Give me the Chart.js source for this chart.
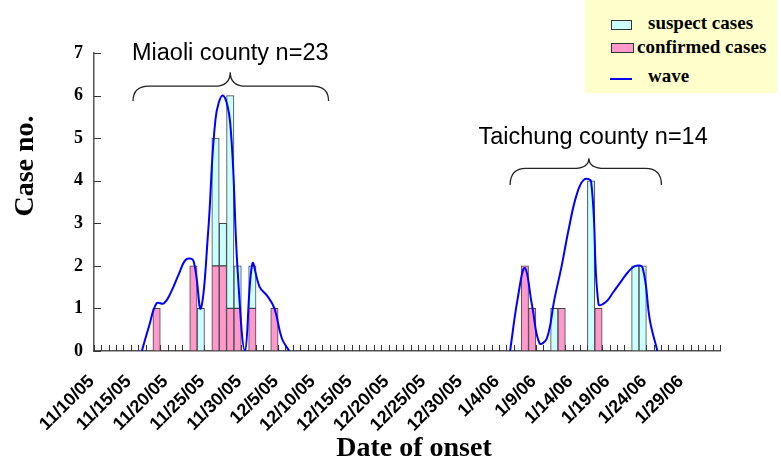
<!DOCTYPE html>
<html>
<head>
<meta charset="utf-8">
<script src="https://cdn.jsdelivr.net/npm/chart.js@4.4.1/dist/chart.umd.min.js"></script>
<style>
  body { margin: 0; background: #fff; }
  #wrap { position: relative; width: 781px; height: 463px; }
  #legend { position: absolute; left: 585px; top: 0; width: 192px; height: 93px; background: #ffffcc;
            font: bold 19px "Liberation Serif", "Times New Roman", serif; color: #000; line-height: 1; }
  #legend span { position: absolute; white-space: nowrap; }
  .swatch { position: absolute; width: 19px; height: 8px; border: 1px solid #333; }
</style>
</head>
<body>
<div id="wrap">
  <canvas id="epiChart" width="781" height="463"></canvas>
  <div id="legend">
    <div class="swatch" style="left:26px;top:20px;background:#ccffff"></div>
    <span style="left:63px;top:13px">suspect cases</span>
    <div class="swatch" style="left:26px;top:43px;width:21px;background:#ff99cc"></div>
    <span style="left:52px;top:37px">confirmed cases</span>
    <div style="position:absolute;left:25px;top:78px;width:22px;height:2px;background:#0000ff"></div>
    <span style="left:63px;top:66px">wave</span>
  </div>
</div>
<script>
// onset dates 11/10/05 .. 2/2/06, one category per day
const dates = [];
for (let i = 0; i < 85; i++) {
  const d = new Date(2005, 10, 10 + i);
  dates.push(`${d.getMonth() + 1}/${d.getDate()}/${String(d.getFullYear()).slice(2)}`);
}

const confirmedDays = ["11/18/05", "11/23/05", "11/26/05", "11/27/05", "11/28/05", "11/29/05", "12/1/05", "12/4/05",
                       "1/7/06", "1/8/06", "1/12/06", "1/17/06"];
const confirmedCounts = [1, 2, 2, 2, 1, 1, 1, 1, 2, 1, 1, 1];

const suspectDays = ["11/24/05", "11/26/05", "11/27/05", "11/28/05", "11/29/05", "12/1/05",
                     "1/11/06", "1/16/06", "1/22/06", "1/23/06"];
const suspectCounts = [1, 3, 1, 5, 1, 1, 1, 4, 2, 2];

const waveDays = ["11/16/05", "11/17/05", "11/18/05", "11/19/05", "11/20/05", "11/21/05", "11/22/05", "11/23/05",
                  "11/24/05", "11/25/05", "11/26/05", "11/27/05", "11/28/05", "11/29/05", "11/30/05", "12/1/05",
                  "12/2/05", "12/3/05", "12/4/05", "12/5/05", "12/6/05",
                  "1/5/06", "1/6/06", "1/7/06", "1/8/06", "1/9/06", "1/10/06", "1/11/06", "1/12/06", "1/13/06",
                  "1/14/06", "1/15/06", "1/16/06", "1/17/06", "1/18/06", "1/19/06", "1/20/06", "1/21/06",
                  "1/22/06", "1/23/06", "1/24/06", "1/25/06"];
const waveValues = [0, 0.6, 1.12, 1.12, 1.4, 1.8, 2.15, 2.12,
                    1.0, 2.8, 5.45, 6.0, 5.35, 1.9, 0, 2.05,
                    1.5, 1.3, 1.0, 0.3, 0,
                    0, 1.2, 1.95, 1.05, 0.18, 0.3, 1.2, 2.0, 2.9,
                    3.65, 4.02, 3.98, 1.1, 1.15, 1.38, 1.62, 1.85,
                    2.0, 1.95, 0.7, 0];

const yTicks = [0, 1, 2, 3, 4, 5, 6, 7];

// county notes: brace span and label, x in category index, y in case units
const countyNotes = [
  { text: "Miaoli county n=23", textX: 18.0, textY: 6.84, from: 4.8, to: 31.35, apex: 18.0, yEnd: 5.87, yBar: 6.22, yApex: 6.55 },
  { text: "Taichung county n=14", textX: 67.27, textY: 4.86, from: 56.0, to: 76.55, apex: 66.7, yEnd: 3.9, yBar: 4.29, yApex: 4.53 }
];

function fillSeries(days, values) {
  const out = dates.map(() => null);
  days.forEach((day, i) => { out[dates.indexOf(day)] = values[i]; });
  return out;
}

const decorations = {
  id: "decorations",
  beforeDatasetsDraw(chart) {
    const { ctx, chartArea, scales: { x, y } } = chart;
    ctx.save();
    ctx.strokeStyle = "#333";
    ctx.lineWidth = 1;
    ctx.beginPath();
    for (let i = 0; i <= dates.length; i++) {
      const px = Math.round(x.getPixelForValue(i - 0.5)) + 0.5;
      ctx.moveTo(px, chartArea.bottom - 6);
      ctx.lineTo(px, chartArea.bottom);
    }
    yTicks.forEach(v => {
      const py = Math.round(y.getPixelForValue(v)) + 0.5;
      ctx.moveTo(chartArea.left, py);
      ctx.lineTo(chartArea.left + 7, py);
    });
    ctx.stroke();
    ctx.restore();
  },
  afterDraw(chart) {
    const { ctx, scales: { x, y } } = chart;
    ctx.save();
    ctx.fillStyle = "#000";
    ctx.strokeStyle = "#222";
    ctx.lineWidth = 1.3;

    countyNotes.forEach(note => {
      ctx.font = "23.5px 'Liberation Sans', Arial, sans-serif";
      ctx.textAlign = "center";
      ctx.textBaseline = "alphabetic";
      ctx.fillText(note.text, x.getPixelForValue(note.textX), y.getPixelForValue(note.textY));

      const x1 = x.getPixelForValue(note.from);
      const x2 = x.getPixelForValue(note.to);
      const xm = x.getPixelForValue(note.apex);
      const yEnd = y.getPixelForValue(note.yEnd);
      const yBar = y.getPixelForValue(note.yBar);
      const yApex = y.getPixelForValue(note.yApex);
      const r = 16;
      ctx.beginPath();
      ctx.moveTo(x1, yEnd);
      ctx.quadraticCurveTo(x1, yBar, x1 + r, yBar);
      ctx.lineTo(xm - r, yBar);
      ctx.quadraticCurveTo(xm, yBar, xm, yApex);
      ctx.quadraticCurveTo(xm, yBar, xm + r, yBar);
      ctx.lineTo(x2 - r, yBar);
      ctx.quadraticCurveTo(x2, yBar, x2, yEnd);
      ctx.stroke();
    });

    ctx.font = "bold 28px 'Liberation Serif', 'Times New Roman', serif";
    ctx.textAlign = "center";
    ctx.fillText("Date of onset", 414, 456);

    ctx.translate(33, 166);
    ctx.rotate(-Math.PI / 2);
    ctx.fillText("Case no.", 0, 0);
    ctx.restore();
  }
};

const ctx = document.getElementById("epiChart").getContext("2d");
new Chart(ctx, {
  data: {
    labels: dates,
    datasets: [{
      type: "line",
      label: "wave",
      data: fillSeries(waveDays, waveValues),
      borderColor: "#0000ff",
      borderWidth: 2,
      pointRadius: 0,
      tension: 0.4,
      spanGaps: false,
      order: 0
    }, {
      type: "bar",
      label: "confirmed cases",
      data: fillSeries(confirmedDays, confirmedCounts),
      backgroundColor: "#ff99cc",
      borderColor: "#444",
      borderWidth: 1,
      borderSkipped: false,
      categoryPercentage: 1,
      barPercentage: 1,
      order: 1
    }, {
      type: "bar",
      label: "suspect cases",
      data: fillSeries(suspectDays, suspectCounts),
      backgroundColor: "#ccffff",
      borderColor: "#444",
      borderWidth: 1,
      borderSkipped: false,
      categoryPercentage: 1,
      barPercentage: 1,
      order: 1
    }]
  },
  options: {
    responsive: false,
    animation: false,
    layout: { padding: { left: 0, right: 61, top: 53, bottom: 0 } },
    plugins: {
      legend: { display: false },
      tooltip: { enabled: false }
    },
    scales: {
      x: {
        stacked: true,
        grid: { display: false, drawTicks: false },
        border: { display: true, color: "#555", width: 1.5 },
        ticks: {
          autoSkip: false,
          minRotation: 45,
          maxRotation: 45,
          padding: 20,
          labelOffset: -6,
          color: "#000",
          font: { family: "'Liberation Sans', Arial, sans-serif", size: 18, weight: "bold" },
          callback: function (value, index) {
            return index % 5 === 0 ? this.getLabelForValue(value) : "";
          }
        },
        afterFit: scale => { scale.height = 112; }
      },
      y: {
        stacked: true,
        min: 0,
        max: 7,
        grid: { display: false, drawTicks: false },
        border: { display: true, color: "#555", width: 1.5 },
        ticks: {
          stepSize: 1,
          padding: 11,
          color: "#000",
          font: { family: "'Liberation Serif', 'Times New Roman', serif", size: 18, weight: "bold" }
        },
        afterFit: scale => { scale.width = 94; }
      }
    }
  },
  plugins: [decorations]
});
</script>
</body>
</html>
